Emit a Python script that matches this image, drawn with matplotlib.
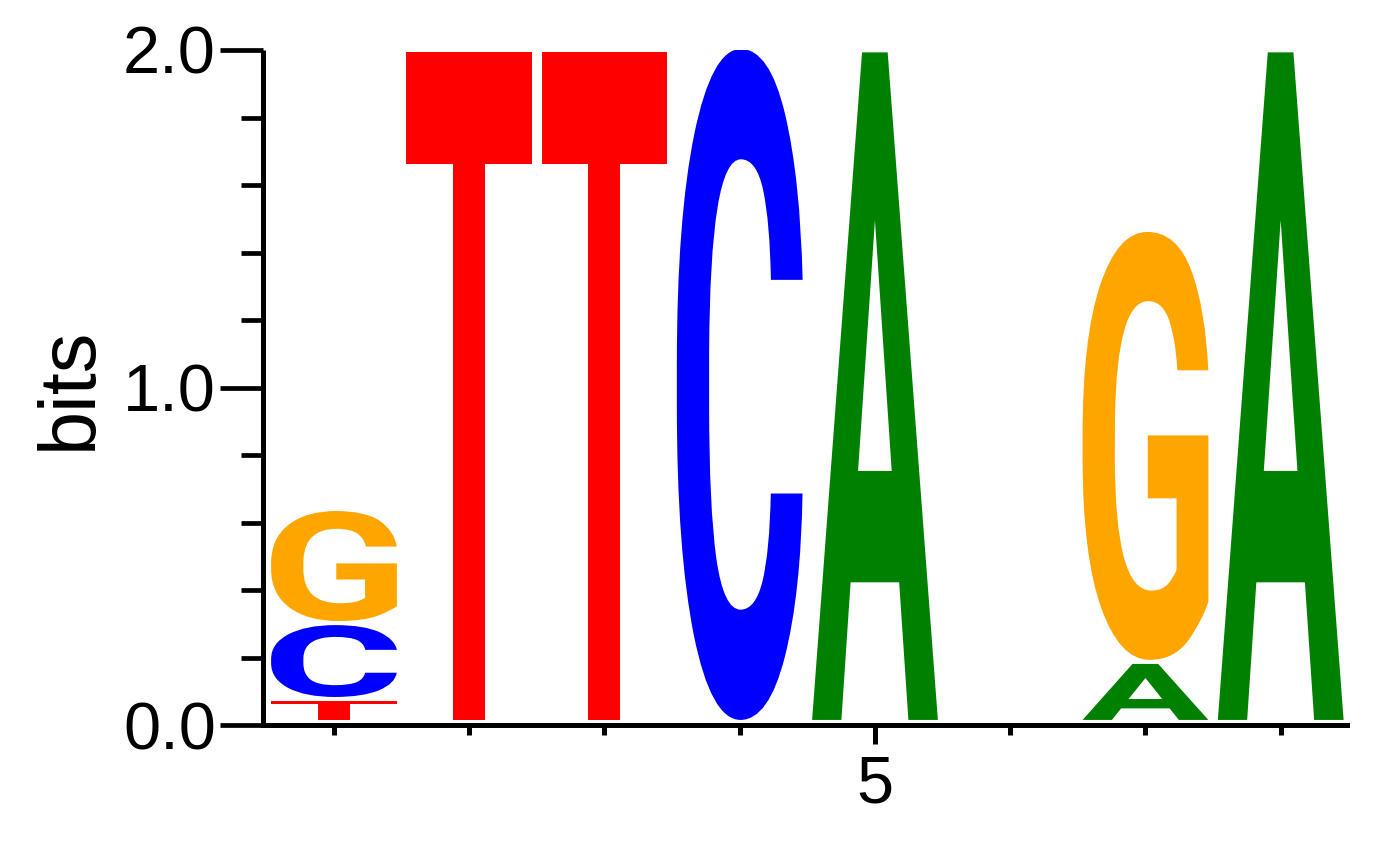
import matplotlib
matplotlib.use("Agg")
import matplotlib.pyplot as plt
from matplotlib.textpath import TextPath
from matplotlib.font_manager import FontProperties
from matplotlib.patches import PathPatch
from matplotlib.path import Path
import numpy as np

# ---- data (bits per letter, stacked bottom -> top) ----
positions = [1, 2, 3, 4, 5, 6, 7, 8]
letters = [["T", "C", "G"], ["T"], ["T"], ["C"], ["A"], [], ["A", "G"], ["A"]]
heights = [[0.068, 0.225, 0.338], [1.99], [1.99], [2.0], [1.99], [], [0.178, 1.28], [1.99]]
colors = {"A": "#008000", "C": "#0000FF", "G": "#FFA500", "T": "#FF0000"}
y_major = [0.0, 1.0, 2.0]
y_major_labels = ["0.0", "1.0", "2.0"]
y_minor = [0.2, 0.4, 0.6, 0.8, 1.2, 1.4, 1.6, 1.8]
x_major = [5]
x_major_labels = ["5"]
x_minor = [1, 2, 3, 4, 6, 7, 8]

W, H = 1392, 842
fig = plt.figure(figsize=(W / 100, H / 100), dpi=100)
ax = fig.add_axes([263 / W, 1 - 725 / H, (1347 - 263) / W, (725 - 50) / H])
ax.set_xlim(0.475, 8.49)
ax.set_ylim(0, 2.0)

fp = FontProperties(family="Roboto", weight="bold")
letter_w = 0.93
base = 0.009
gap = 0.006


def draw_letter(ch, xc, y0, y1):
    tp = TextPath((0, 0), ch, size=1, prop=fp)
    ext = tp.get_extents()
    v = tp.vertices.copy()
    v[:, 0] = (v[:, 0] - ext.x0) / ext.width * letter_w + (xc - letter_w / 2)
    v[:, 1] = (v[:, 1] - ext.y0) / ext.height * (y1 - y0) + y0
    p = Path(v, tp.codes)
    ax.add_patch(PathPatch(p, facecolor=colors[ch], edgecolor="none", lw=0))


for pos, ls, hs in zip(positions, letters, heights):
    y = base
    for ch, h in zip(ls, hs):
        draw_letter(ch, pos, y + gap, y + h - gap)
        y += h

# ---- axes styling ----
for s in ["top", "right"]:
    ax.spines[s].set_visible(False)
ax.spines["left"].set_linewidth(3.6)
ax.spines["bottom"].set_linewidth(3.6)
ax.spines["left"].set_capstyle("butt")

font = "Liberation Sans"
ax.set_yticks(y_major)
ax.set_yticklabels(y_major_labels, fontsize=48, family=font)
ax.set_yticks(y_minor, minor=True)
ax.tick_params(axis="y", which="major", direction="out", length=31, width=3.4, pad=3)
ax.tick_params(axis="y", which="minor", direction="out", length=16, width=3.4)

ax.set_xticks(x_major)
ax.set_xticklabels(x_major_labels, fontsize=48, family=font)
ax.set_xticks(x_minor, minor=True)
ax.tick_params(axis="x", which="major", direction="out", length=14, width=3.6, pad=7)
ax.tick_params(axis="x", which="minor", direction="out", length=7, width=3.6)

fig.text(70 / W, 1 - 388 / H, "bits", rotation=90, ha="center", va="center",
         fontsize=57, family=font)

fig.savefig("out.png", dpi=100)
